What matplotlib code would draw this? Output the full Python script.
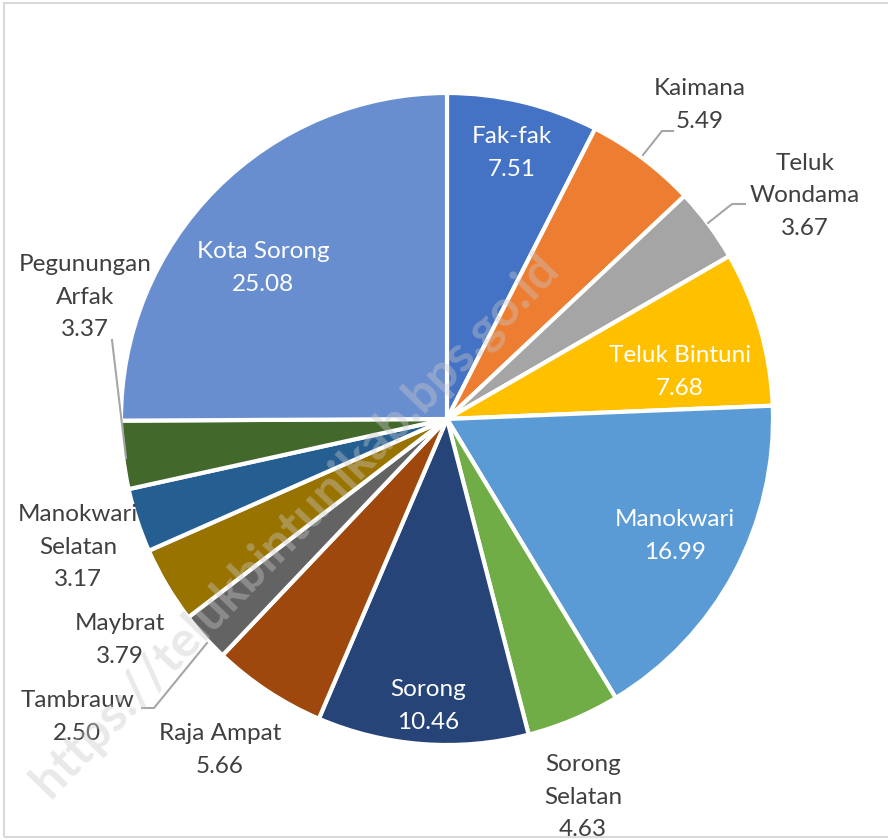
import matplotlib
matplotlib.use("Agg")
import matplotlib.pyplot as plt
from matplotlib.patches import Rectangle

# data (clockwise from 12 o'clock)
regions = ["Fak-fak", "Kaimana", "Teluk\nWondama", "Teluk Bintuni", "Manokwari",
           "Sorong\nSelatan", "Sorong", "Raja Ampat", "Tambrauw", "Maybrat",
           "Manokwari\nSelatan", "Pegunungan\nArfak", "Kota Sorong"]
shares = [7.51, 5.49, 3.67, 7.68, 16.99, 4.63, 10.46, 5.66, 2.50, 3.79, 3.17, 3.37, 25.08]
colors = ["#4472C4", "#ED7D31", "#A5A5A5", "#FFC000", "#5B9BD5", "#70AD47", "#264478",
          "#9E480E", "#636363", "#997300", "#255E91", "#43682B", "#698ED0"]

# label placement in image pixels (x, y from top), and whether label sits inside
label_pos = [(512, 153), (700, 105), (805, 196), (680, 372), (675, 536), (583, 797),
             (428, 706), (220, 750), (77, 717), (120, 640), (78, 547), (85, 297), (263, 268)]
inside = [True, False, False, True, True, False, True, False, False, False, False, False, True]

# leader lines in image pixels
leaders = {
    "Kaimana": [(643, 155), (662, 131), (673, 131)],
    "Teluk Wondama": [(708, 223), (732, 204), (745, 204)],
    "Pegunungan Arfak": [(112, 340), (126, 458)],
    "Tambrauw": [(207, 643), (154, 708), (142, 708)],
}

W, H = 888, 840
plt.rcParams['font.family'] = ['Lato', 'DejaVu Sans']

fig = plt.figure(figsize=(W / 100, H / 100), dpi=100)
ax = fig.add_axes([0, 0, 1, 1])

# chart frame
ax.add_patch(Rectangle((4, 3), W + 10, H - 6, fill=False, edgecolor="#D9D9D9", linewidth=1.5))

explode = [0] * len(shares)
explode[-1] = 0.012
ax.pie(shares, colors=colors, startangle=90, counterclock=False,
       center=(447, H - 419), radius=326, explode=explode,
       wedgeprops=dict(edgecolor="white", linewidth=3), frame=True)
ax.set_xlim(0, W)
ax.set_ylim(0, H)
ax.set_aspect('equal')
ax.axis('off')

for name, val, (x, y), ins in zip(regions, shares, label_pos, inside):
    ax.text(x, H - y, f"{name}\n{val:.2f}", ha='center', va='center',
            fontsize=17.5, linespacing=1.65,
            color='white' if ins else '#404040')

for pts in leaders.values():
    xs = [p[0] for p in pts]
    ys = [H - p[1] for p in pts]
    ax.plot(xs, ys, color="#A6A6A6", linewidth=1.5)

# watermark
ax.text(295, H - 525, "https://telukbintunikab.bps.go.id", rotation=46,
        ha='center', va='center', fontsize=36, fontweight='bold',
        color='#C8C8C8', alpha=0.4)

fig.savefig("out.png", dpi=100)
